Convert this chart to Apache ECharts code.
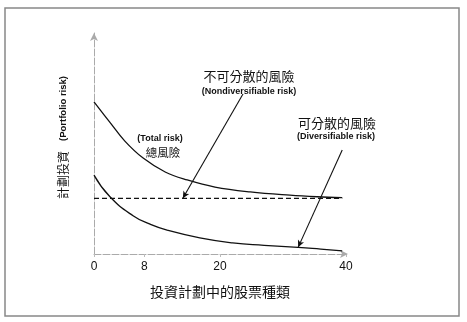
<!DOCTYPE html>
<html>
<head>
<meta charset="utf-8">
<script src="https://cdn.jsdelivr.net/npm/echarts@6/dist/echarts.min.js"></script>
<style>
  html, body { margin: 0; padding: 0; background: #fff; }
  #chart { width: 467px; height: 322px; }
</style>
</head>
<body>
<div id="chart"></div>
<script>
// Number of stocks in the portfolio (x) against portfolio risk (y, arbitrary units)
const xTicks = [0, 8, 20, 40];

// Total risk: falls as more stocks are added, levelling off at the market risk
const totalRisk = [
  [0, 68.8], [2.5, 59.7], [4.9, 51.1], [7.8, 43.4], [11.3, 37.1],
  [14.8, 33.5], [19.2, 30.3], [24.8, 28.1], [31.1, 26.6], [35.4, 25.9], [39.4, 25.5]
];

// Nondiversifiable (market) risk level
const marketRiskLevel = 25.2;
const marketRisk = [[0, marketRiskLevel], [39.4, marketRiskLevel]];

// Diversifiable risk: shrinks towards zero
const diversifiableRisk = [
  [0, 35.7], [2.5, 26.0], [6.2, 17.3], [8.9, 13.5], [11.6, 10.8],
  [16.8, 7.3], [22, 5.0], [27, 3.9], [32.4, 3.0], [36, 2.2], [39.4, 1.4]
];

// Pointer lines from the annotations down to the curves
const pointerNondiv = [[23.65, 72.4], [14.1, marketRiskLevel]];
const pointerDiv = [[39.4, 47.1], [32.4, 3.0]];

const cjk = '"Noto Sans CJK TC", "Noto Sans CJK SC", sans-serif';
const latin = '"Liberation Sans", Arial, sans-serif';
const ink = '#111';

const chart = echarts.init(document.getElementById('chart'), null, { renderer: 'canvas' });

function pointer(pts) {
  return {
    silent: true,
    symbol: ['none', 'arrow'],
    symbolSize: [5, 7],
    label: { show: false },
    lineStyle: { color: ink, width: 1.1, type: 'solid' },
    data: [[{ coord: pts[0] }, { coord: pts[1] }]]
  };
}

chart.setOption({
  backgroundColor: '#fff',
  animation: false,
  grid: { left: 94, right: 121, top: 33, bottom: 68 },
  xAxis: {
    type: 'value',
    min: 0,
    max: 40,
    name: '投資計劃中的股票種類',
    nameLocation: 'middle',
    nameGap: 31,
    nameTextStyle: { fontFamily: cjk, fontSize: 14, color: ink },
    axisLine: {
      show: true,
      symbol: ['none', 'arrow'],
      symbolSize: [6, 8],
      symbolOffset: [0, 2],
      lineStyle: { color: '#aaa', width: 1, type: [7, 2] }
    },
    axisTick: { show: true, customValues: xTicks, length: 3, lineStyle: { color: '#bbb' } },
    axisLabel: {
      customValues: xTicks,
      margin: 7,
      fontFamily: latin,
      fontSize: 12,
      color: ink
    },
    splitLine: { show: false }
  },
  yAxis: {
    type: 'value',
    min: 0,
    max: 100,
    name: '{cn|計劃投資}{en|(Portfolio risk)}',
    nameLocation: 'middle',
    nameRotate: 90,
    nameGap: 25,
    nameTextStyle: {
      rich: {
        cn: { fontFamily: cjk, fontSize: 12, color: ink, padding: [0, 0, 0, 12] },
        en: { fontFamily: latin, fontSize: 9.5, fontWeight: 'bold', color: ink, padding: [0, 0, 0, 10] }
      }
    },
    axisLine: {
      show: true,
      symbol: ['none', 'arrow'],
      symbolSize: [6, 8],
      lineStyle: { color: '#aaa', width: 1, type: [7, 2] }
    },
    axisTick: { show: false },
    axisLabel: { show: false },
    splitLine: { show: false }
  },
  series: [
    {
      name: 'Total risk',
      type: 'line',
      data: totalRisk,
      smooth: 0.4,
      showSymbol: false,
      lineStyle: { color: ink, width: 1.3 },
      markLine: pointer(pointerNondiv)
    },
    {
      name: 'Nondiversifiable risk',
      type: 'line',
      data: marketRisk,
      showSymbol: false,
      lineStyle: { color: ink, width: 1.3, type: [5, 3] }
    },
    {
      name: 'Diversifiable risk',
      type: 'line',
      data: diversifiableRisk,
      smooth: 0.5,
      showSymbol: false,
      lineStyle: { color: ink, width: 1.3 },
      markLine: pointer(pointerDiv)
    }
  ],
  graphic: [
    {
      type: 'rect',
      shape: { x: 5, y: 8, width: 454, height: 308 },
      style: { fill: 'none', stroke: '#888', lineWidth: 1.5 },
      silent: true
    },
    { type: 'text', x: 249, y: 76, style: { text: '不可分散的風險', fontFamily: cjk, fontSize: 13, fill: ink, textAlign: 'center', textVerticalAlign: 'middle' } },
    { type: 'text', x: 249, y: 92, style: { text: '(Nondiversifiable risk)', fontFamily: latin, fontSize: 9, fontWeight: 'bold', fill: ink, textAlign: 'center', textVerticalAlign: 'middle' } },
    { type: 'text', x: 337, y: 123, style: { text: '可分散的風險', fontFamily: cjk, fontSize: 13, fill: ink, textAlign: 'center', textVerticalAlign: 'middle' } },
    { type: 'text', x: 336, y: 137, style: { text: '(Diversifiable risk)', fontFamily: latin, fontSize: 9, fontWeight: 'bold', fill: ink, textAlign: 'center', textVerticalAlign: 'middle' } },
    { type: 'text', x: 160, y: 139, style: { text: '(Total risk)', fontFamily: latin, fontSize: 9, fontWeight: 'bold', fill: ink, textAlign: 'center', textVerticalAlign: 'middle' } },
    { type: 'text', x: 163, y: 153, style: { text: '總風險', fontFamily: cjk, fontSize: 11.5, fill: ink, textAlign: 'center', textVerticalAlign: 'middle' } }
  ]
});
</script>
</body>
</html>
